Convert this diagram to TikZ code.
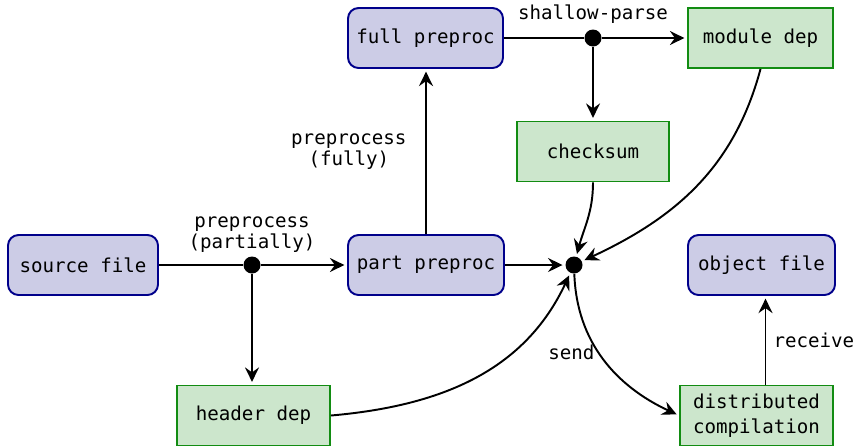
\documentclass[tikz,border=0pt]{standalone}
\usepackage{fontspec}
\setmonofont{DejaVu Sans Mono}
\usepackage{xcolor}
\usetikzlibrary{arrows.meta, positioning, calc}

\definecolor{procfill}{HTML}{CCCCE6}
\definecolor{procdraw}{HTML}{00008B}
\definecolor{depfill}{HTML}{CCE6CC}
\definecolor{depdraw}{HTML}{128C12}

\begin{document}
\begin{tikzpicture}[
    % --- BASE STYLES ---
    box/.style={rectangle, align=center, font=\ttfamily\fontsize{10.9}{14}\selectfont, minimum width=3cm, minimum height=1.2cm, inner sep=2pt, line width=1.1pt},
    procbox/.style={box, rounded corners=6pt, fill=procfill, draw=procdraw},
    depbox/.style={box, fill=depfill, draw=depdraw},
    flow/.style={draw=black, line width=1.1pt, shorten >=1.5pt, -{Stealth[length=2.9mm, width=2.8mm, inset=1mm]}},
    plain/.style={draw=black, line width=1.1pt},
    joint/.style={circle, fill=black, inner sep=0pt, minimum size=0.34cm},
    edgelabel/.style={font=\ttfamily\fontsize{10.9}{12}\selectfont, align=center, inner sep=2pt}
]
\useasboundingbox (0,0) rectangle (17.1,-8.94);

% ==========================================
% PREPROCESSING (BLUE)
% ==========================================
\node[procbox] (source) at (1.66,-5.30) {source file};
\node[procbox, minimum width=3.12cm] (partpp) at (8.52,-5.30) {part preproc};
\node[procbox, minimum width=3.1cm] (fullpp) at (8.51,-0.76) {full preproc};
\node[procbox, minimum width=2.94cm] (objfile) at (15.23,-5.30) {object file};

% ==========================================
% DEPENDENCIES (GREEN)
% ==========================================
\node[depbox, minimum width=2.9cm] (moddep) at (15.21,-0.76) {module dep};
\node[depbox, minimum width=3.04cm] (checksum) at (11.86,-3.03) {checksum};
\node[depbox, minimum width=3.06cm] (hdrdep) at (5.07,-8.31) {header dep};
\node[depbox, minimum width=3.06cm] (distcomp) at (15.13,-8.31) {distributed\\compilation};

% Branch points
\node[joint] (split1) at (5.04,-5.30) {};
\node[joint] (split2) at (11.86,-0.76) {};
\node[joint] (merge) at (11.48,-5.30) {};

% ==========================================
% CONNECTIONS
% ==========================================
\draw[plain] (source.east) -- (split1);
\draw[flow] (split1) -- (partpp.west);
\draw[flow] (split1) -- (split1 |- hdrdep.north);
\node[edgelabel, above=0pt of split1] (lblpartial) {preprocess\\(partially)};

\draw[flow] (partpp.north) -- node[edgelabel, left=0.3cm] (lblfully) {preprocess\\(fully)} (partpp.north |- fullpp.south);

\draw[plain] (fullpp.east) -- (split2);
\draw[flow] (split2) -- (moddep.west);
\draw[flow] (split2) -- (checksum.north);
\node[edgelabel, above=1pt of split2] (lblshallow) {shallow-parse};

% Everything gathers at the merge point
\draw[flow] (partpp.east) -- (merge);
\draw[flow] (checksum.south) to[out=-90, in=75] (merge);
\draw[flow] (moddep.south) to[out=-105, in=25] (merge);
\draw[flow] (hdrdep.east) to[out=5, in=-115] (merge);

\draw[flow] (merge) to[out=-88, in=155] node[edgelabel, pos=0.45, left=0pt] (lblsend) {send} (distcomp.west);
\draw[flow] ([xshift=0.08cm]objfile.south |- distcomp.north) -- node[edgelabel, right=2pt] (lblrecv) {receive} ([xshift=0.08cm]objfile.south);

\end{tikzpicture}
\end{document}
